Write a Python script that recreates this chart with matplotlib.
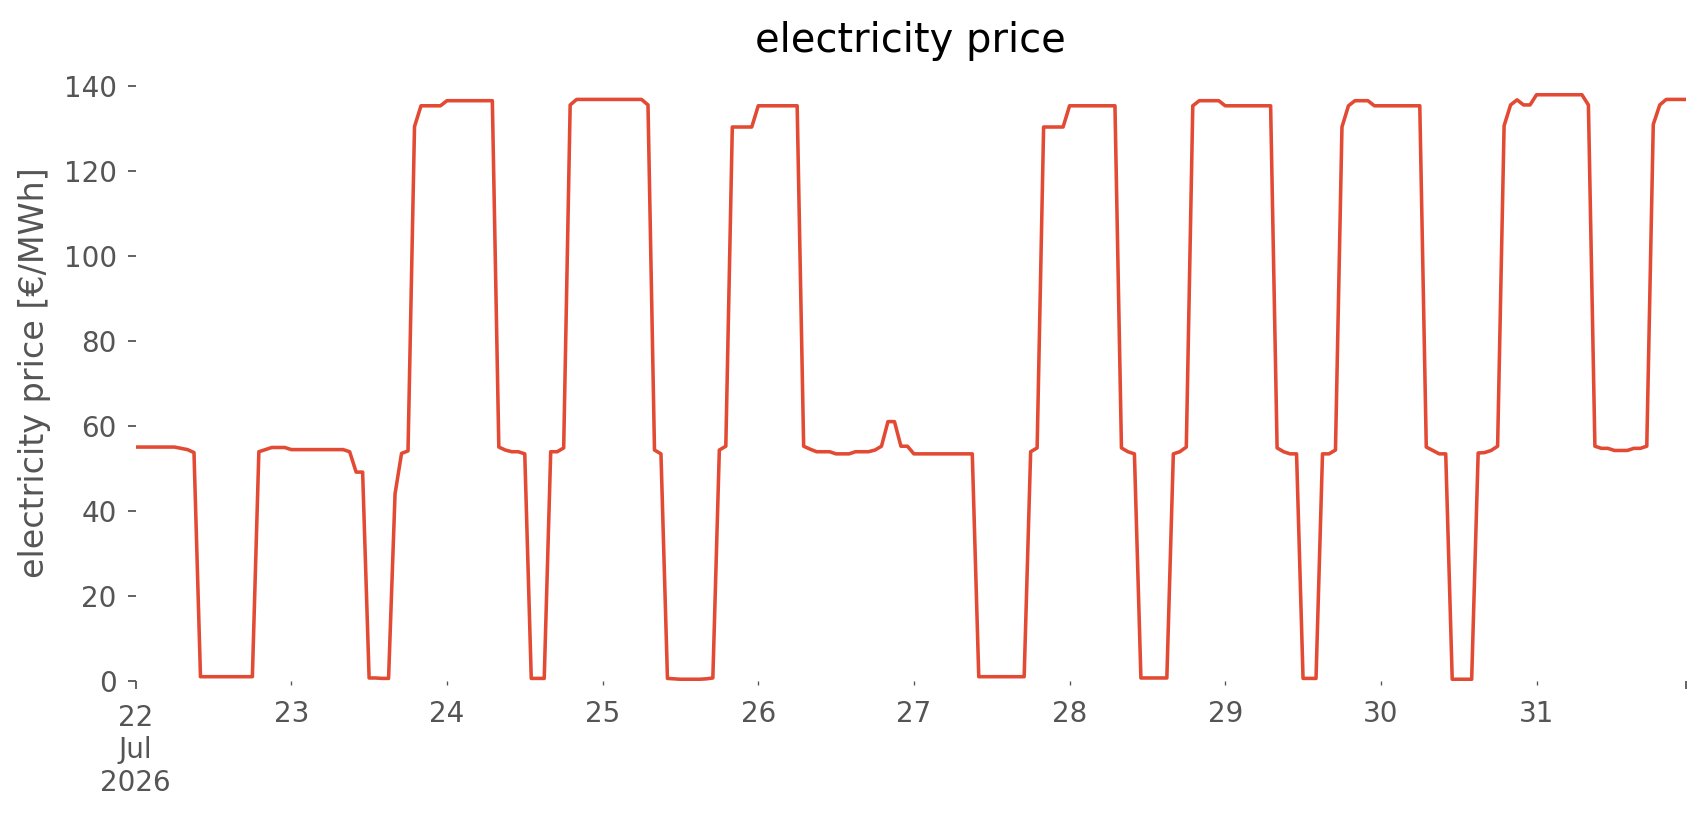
import numpy as np
import pandas as pd
import matplotlib
matplotlib.use("Agg")
import matplotlib.pyplot as plt
import matplotlib.dates as mdates

plt.style.use("ggplot")
plt.rcParams["font.family"] = ["DejaVu Sans"]
plt.rcParams["font.size"] = 12

# hourly electricity price [€/MWh], one list per day (00:00 .. 23:00)
jul22 = [55.0, 55.0, 55.0, 55.0, 55.0, 55.0, 55.0, 54.7, 54.4, 53.7, 0.9, 0.9,
         0.9, 0.9, 0.9, 0.9, 0.9, 0.9, 0.9, 53.9, 54.4, 54.9, 54.9, 54.9]
jul23 = [54.4, 54.4, 54.4, 54.4, 54.4, 54.4, 54.4, 54.4, 54.4, 53.9, 49.1, 49.1,
         0.6, 0.6, 0.5, 0.5, 44.0, 53.5, 54.1, 130.5, 135.4, 135.4, 135.4, 135.4]
jul24 = [136.6, 136.6, 136.6, 136.6, 136.6, 136.6, 136.6, 136.6, 55.0, 54.3, 53.9, 53.9,
         53.4, 0.5, 0.5, 0.5, 53.9, 53.9, 54.8, 135.6, 136.9, 136.9, 136.9, 136.9]
jul25 = [136.9, 136.9, 136.9, 136.9, 136.9, 136.9, 136.9, 135.6, 54.3, 53.4, 0.5, 0.4,
         0.3, 0.3, 0.3, 0.3, 0.4, 0.6, 54.3, 55.2, 130.4, 130.4, 130.4, 130.4]
jul26 = [135.4, 135.4, 135.4, 135.4, 135.4, 135.4, 135.4, 55.2, 54.5, 53.9, 53.9, 53.9,
         53.4, 53.4, 53.4, 53.9, 53.9, 53.9, 54.3, 55.2, 61.0, 61.0, 55.2, 55.2]
jul27 = [53.4, 53.4, 53.4, 53.4, 53.4, 53.4, 53.4, 53.4, 53.4, 53.4, 0.9, 0.9,
         0.9, 0.9, 0.9, 0.9, 0.9, 0.9, 53.9, 54.8, 130.4, 130.4, 130.4, 130.4]
jul28 = [135.4, 135.4, 135.4, 135.4, 135.4, 135.4, 135.4, 135.4, 54.8, 53.9, 53.4, 0.6,
         0.6, 0.6, 0.6, 0.6, 53.4, 53.9, 55.0, 135.4, 136.6, 136.6, 136.6, 136.6]
jul29 = [135.4, 135.4, 135.4, 135.4, 135.4, 135.4, 135.4, 135.4, 54.8, 53.9, 53.4, 53.4,
         0.5, 0.5, 0.5, 53.4, 53.4, 54.3, 130.4, 135.4, 136.6, 136.6, 136.6, 135.4]
jul30 = [135.4, 135.4, 135.4, 135.4, 135.4, 135.4, 135.4, 55.0, 54.2, 53.4, 53.4, 0.3,
         0.3, 0.3, 0.3, 53.6, 53.7, 54.2, 55.2, 130.7, 135.6, 136.8, 135.6, 135.6]
jul31 = [138.0, 138.0, 138.0, 138.0, 138.0, 138.0, 138.0, 138.0, 135.6, 55.2, 54.7, 54.7,
         54.2, 54.2, 54.2, 54.7, 54.7, 55.2, 131.0, 135.6, 136.9, 136.9, 136.9, 136.9]

day_labels = ["23", "24", "25", "26", "27", "28", "29", "30", "31"]
first_label = "22\nJul\n2026"

price = np.concatenate([jul22, jul23, jul24, jul25, jul26,
                        jul27, jul28, jul29, jul30, jul31])
index = pd.date_range("2026-07-22 00:00", periods=len(price), freq="h")
xnum = mdates.date2num(index.to_pydatetime())

DPI = 160
fig = plt.figure(figsize=(1706 / DPI, 815 / DPI), dpi=DPI)
ax = fig.add_axes([0.0795, 0.165, 0.9086, 0.7546])
ax.set_facecolor("white")
ax.grid(False)
for s in ax.spines.values():
    s.set_visible(False)

ax.plot(xnum, price, color="#E24A33", lw=1.6)
ax.set_xlim(xnum[0], xnum[-1])
ax.set_ylim(bottom=0)
ax.set_yticks(np.arange(0, 141, 20))

# pandas-like date axis: first/last as major ticks, day starts as minor ticks
ax.set_xticks([xnum[0], xnum[-1]], labels=[first_label, ""])
ax.set_xticks(xnum[24::24], labels=day_labels, minor=True)
ax.tick_params(axis="both", which="both", labelsize=12.5, colors="#555555")
ax.tick_params(axis="x", which="major", pad=7.1)
ax.tick_params(axis="x", which="minor", pad=6.7)
ax.tick_params(axis="y", which="major", pad=5)

ax.set_ylabel("electricity price [€/MWh]", fontsize=15, labelpad=5.5)
ax.set_title("electricity price", fontsize=18)

fig.savefig("out.png", dpi=DPI)
